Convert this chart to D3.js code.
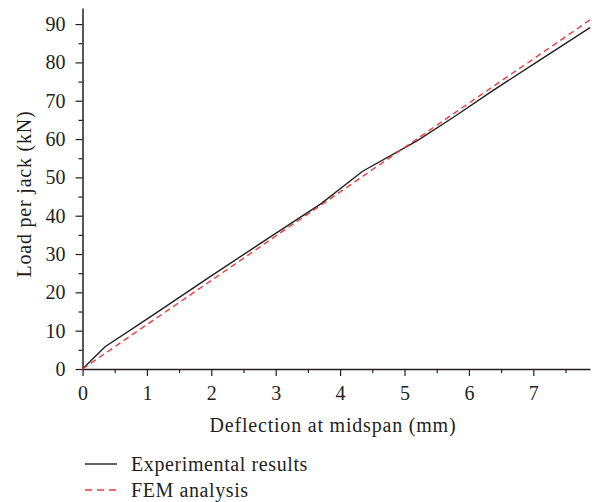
<!DOCTYPE html>
<html>
<head>
<meta charset="utf-8">
<script src="https://cdn.jsdelivr.net/npm/d3@7"></script>
<style>
  body { margin: 0; background: #fff; }
  svg text { font-family: "Liberation Serif", "DejaVu Serif", serif; fill: #231f20; }
</style>
</head>
<body>
<div id="chart"></div>
<script>
// Experimental load-deflection curve (mm, kN)
const expDeflection = [0, 0.35, 1, 2, 3, 3.7, 4.35, 5.2, 5.76, 6.33, 7.1, 7.88];
const expLoad = [0, 5.8, 13, 24.3, 35.4, 43.1, 51.6, 59.6, 65.7, 72.2, 80.6, 89.1];

// FEM curve
const femDeflection = [0, 1, 2, 3, 4, 5, 6, 7, 7.88];
const femLoad = [0, 11.6, 23.1, 34.7, 46.2, 57.8, 69.4, 80.9, 91.1];

const xTicks = [0, 1, 2, 3, 4, 5, 6, 7];
const yTicks = [0, 10, 20, 30, 40, 50, 60, 70, 80, 90];

const series = [
  { name: "Experimental results", color: "#231f20", dash: null,
    points: expDeflection.map((d, i) => [d, expLoad[i]]) },
  { name: "FEM analysis", color: "#ee3b3b", dash: "6,4",
    points: femDeflection.map((d, i) => [d, femLoad[i]]) }
];

const width = 592, height = 502;
const margin = { top: 8, right: 2, bottom: 133, left: 82.5 };

const svg = d3.select("#chart")
  .append("svg")
  .attr("width", width)
  .attr("height", height);

const xScale = d3.scaleLinear()
  .domain([0, 7.88])
  .range([margin.left, width - margin.right]);

const yScale = d3.scaleLinear()
  .domain([0, 94.2])
  .range([height - margin.bottom, margin.top]);

const y0 = yScale(0);

// minor ticks
svg.append("g")
  .attr("transform", `translate(0,${y0})`)
  .call(d3.axisBottom(xScale).tickValues(d3.range(0.5, 7.9, 1)).tickSize(4).tickFormat(""))
  .call(g => g.select(".domain").remove())
  .selectAll("line").attr("stroke", "#231f20").attr("stroke-width", 1.2);

svg.append("g")
  .attr("transform", `translate(${margin.left},0)`)
  .call(d3.axisLeft(yScale).tickValues(d3.range(5, 95, 10)).tickSize(4).tickFormat(""))
  .call(g => g.select(".domain").remove())
  .selectAll("line").attr("stroke", "#231f20").attr("stroke-width", 1.2);

// major axes
const xAxis = svg.append("g")
  .attr("transform", `translate(0,${y0})`)
  .call(d3.axisBottom(xScale).tickValues(xTicks).tickSize(7).tickSizeOuter(0).tickPadding(10).tickFormat(d3.format("d")));

const yAxis = svg.append("g")
  .attr("transform", `translate(${margin.left},0)`)
  .call(d3.axisLeft(yScale).tickValues(yTicks).tickSize(7).tickSizeOuter(0).tickPadding(10).tickFormat(d3.format("d")));

[xAxis, yAxis].forEach(ax => {
  ax.select(".domain").attr("stroke", "#231f20").attr("stroke-width", 1.5);
  ax.selectAll(".tick line").attr("stroke", "#231f20").attr("stroke-width", 1.2);
  ax.selectAll(".tick text")
    .attr("fill", "#231f20")
    .style("font-size", "20px")
    .style("font-family", "'Liberation Serif', serif");
});

// axis titles
svg.append("text")
  .attr("x", 333)
  .attr("y", 432)
  .attr("text-anchor", "middle")
  .style("font-size", "20px")
  .style("letter-spacing", "0.8px")
  .text("Deflection at midspan (mm)");

svg.append("text")
  .attr("transform", `translate(31,194) rotate(-90)`)
  .attr("text-anchor", "middle")
  .style("font-size", "20px")
  .style("letter-spacing", "0.8px")
  .text("Load per jack (kN)");

// lines
const line = d3.line()
  .x(d => xScale(d[0]))
  .y(d => yScale(d[1]));

svg.selectAll(".series")
  .data(series)
  .enter()
  .append("path")
  .attr("class", "series")
  .attr("fill", "none")
  .attr("stroke", d => d.color)
  .attr("stroke-width", 1.4)
  .attr("stroke-dasharray", d => d.dash)
  .attr("d", d => line(d.points));

// Legend
const legend = svg.selectAll(".legend-item")
  .data(series)
  .enter()
  .append("g")
  .attr("class", "legend-item")
  .attr("transform", (d, i) => `translate(85,${464 + i * 26})`);

legend.append("line")
  .attr("x1", 0)
  .attr("x2", 32)
  .attr("stroke", d => d.color)
  .attr("stroke-width", 1.4)
  .attr("stroke-dasharray", d => d.dash ? "7,5" : null);

legend.append("text")
  .attr("x", 46)
  .attr("dy", "0.33em")
  .style("font-size", "20px")
  .style("letter-spacing", "0.6px")
  .text(d => d.name);
</script>
</body>
</html>
